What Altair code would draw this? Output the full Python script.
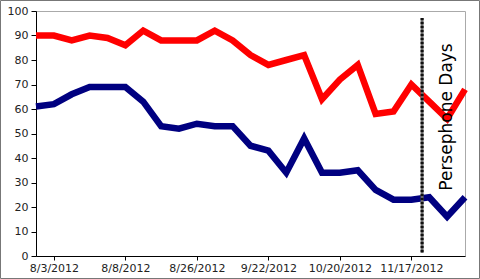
import altair as alt
import pandas as pd

# ---- data ----
red_values = [90, 90, 88, 90, 89, 86, 92, 88, 88, 88, 92, 88,
              82, 78, 80, 82, 64, 72, 78, 58, 59, 70, 63, 56, 68]
blue_values = [61, 62, 66, 69, 69, 69, 63, 53, 52, 54, 53, 53,
               45, 43, 34, 48, 34, 34, 35, 27, 23, 23, 24, 16, 24]
tick_positions = [1, 3, 5, 7, 9, 11, 13, 15, 17, 19, 21, 23]
label_positions = [1, 5, 9, 13, 17, 21]
label_texts = ["8/3/2012", "8/8/2012", "8/26/2012", "9/22/2012", "10/20/2012", "11/17/2012"]
marker_position = [21.6]
annotation_position = [23]
annotation_text = ["Persephone Days"]

rows = []
for i, v in enumerate(red_values):
    rows.append({"idx": i, "value": v, "series": "red"})
for i, v in enumerate(blue_values):
    rows.append({"idx": i, "value": v, "series": "blue"})
df = pd.DataFrame(rows)

expr = "".join(f"datum.value == {p} ? '{t}' : " for p, t in zip(label_positions, label_texts)) + "''"

FONT = "DejaVu Sans"

x_scale = alt.Scale(domain=[0, 24], nice=False, zero=False)
y_scale = alt.Scale(domain=[0, 100], nice=False)

lines = alt.Chart(df).mark_line(strokeWidth=6.5, strokeJoin="miter").encode(
    x=alt.X("idx:Q", scale=x_scale,
            axis=alt.Axis(values=tick_positions, labelExpr=expr, title=None, grid=False,
                          tickSize=4, labelPadding=2, labelOverlap=False, labelFlush=False,
                          domainColor="#000", tickColor="#000", labelFont=FONT,
                          labelFontSize=11, labelColor="#222")),
    y=alt.Y("value:Q", scale=y_scale,
            axis=alt.Axis(values=list(range(0, 101, 10)), title=None, grid=False,
                          tickSize=5, labelPadding=3, domainColor="#000", tickColor="#000",
                          labelFont=FONT, labelFontSize=11, labelColor="#222")),
    color=alt.Color("series:N", scale=alt.Scale(domain=["red", "blue"], range=["#ff0000", "#000080"]),
                    legend=None),
    detail="series:N",
)

rule_df = pd.DataFrame({"pos": marker_position})
rule_base = alt.Chart(rule_df).mark_rule(color="#666", strokeWidth=3).encode(
    x=alt.X("pos:Q", scale=x_scale),
    y=alt.value(7),
    y2=alt.value(242),
)
rule_dash = alt.Chart(rule_df).mark_rule(color="#111", strokeWidth=3, strokeDash=[2, 2]).encode(
    x=alt.X("pos:Q", scale=x_scale),
    y=alt.value(7),
    y2=alt.value(242),
)

text_df = pd.DataFrame({"pos": annotation_position, "label": annotation_text})
text = alt.Chart(text_df).mark_text(angle=270, align="center", baseline="middle",
                                    font=FONT, fontSize=17, color="#000").encode(
    x=alt.X("pos:Q", scale=x_scale),
    y=alt.value(106),
    text="label:N",
)

frame = alt.Chart(rule_df).mark_rect(fill="transparent", stroke="#777", strokeWidth=1).encode(
    x=alt.value(-35.5), x2=alt.value(443.5), y=alt.value(-10.5), y2=alt.value(267.5)
)

chart = alt.layer(lines, rule_base, rule_dash, text, frame).properties(
    width=429, height=245,
    autosize=alt.AutoSizeParams(type="none"),
    padding={"left": 36, "top": 11, "right": 15, "bottom": 23},
    background="white",
).configure_view(stroke="#aaa", strokeWidth=1)

chart.save("out.html", embed_options={"renderer": "svg", "actions": False})
